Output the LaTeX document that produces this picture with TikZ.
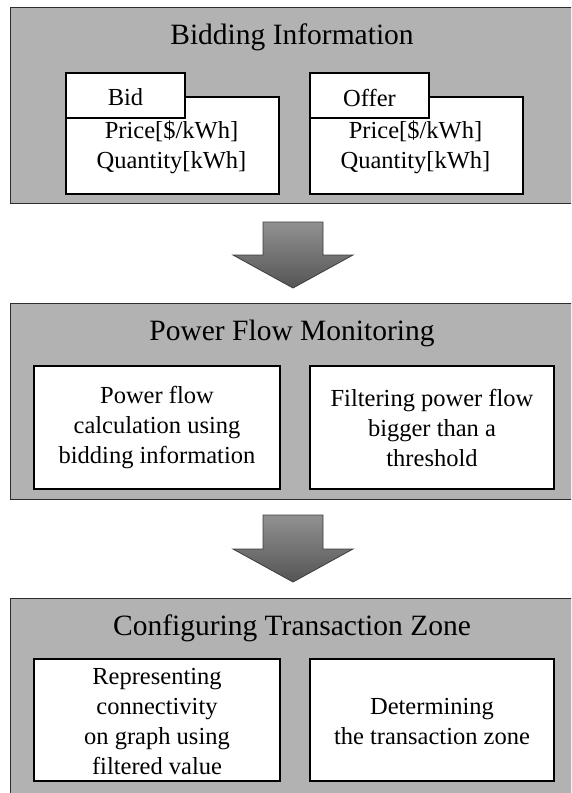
\documentclass[tikz,border=0pt]{standalone}
\usepackage{fontspec}
\setmainfont{Liberation Serif}
\usetikzlibrary{calc}
\definecolor{panelgray}{RGB}{178,178,178}
\definecolor{paneledge}{RGB}{45,45,45}
\definecolor{arrtop}{RGB}{145,145,145}
\definecolor{arrbot}{RGB}{85,85,85}
\definecolor{arredge}{RGB}{60,60,60}
\tikzset{
  panel/.style={draw=paneledge, fill=panelgray, line width=1pt, anchor=north west, inner sep=0pt},
  inbox/.style={draw=black, fill=white, line width=2pt, anchor=north west, inner sep=0pt},
  ptitle/.style={font=\fontsize{29.5}{34}\selectfont, inner sep=0pt},
  btext/.style={font=\fontsize{24.5}{30}\selectfont, align=center, inner sep=0pt},
  blockarrow/.style={draw=arredge, line width=0.8pt, top color=arrtop, bottom color=arrbot, line join=miter}
}
\begin{document}
\begin{tikzpicture}[x=1pt,y=-1pt]
\useasboundingbox (0,0) rectangle (571,793);
\clip (0,0) rectangle (571,793);
% ---------- Panel 1 ----------
\node[panel, minimum width=575pt, minimum height=196pt] (p1) at (10,7) {};
\node[ptitle] (t1) at (292,37) {Bidding Information};
\node[inbox, minimum width=213pt, minimum height=97pt] (bidbody) at (65,96) {};
\node[inbox, minimum width=119pt, minimum height=45pt] (bidtab) at (65,72) {};
\node[btext] (bidlbl) at ($(bidtab.center)+(0,2)$) {Bid};
\node[btext] (bidtxt) at (171.5,147) {Price[\$/kWh]\\Quantity[kWh]};
\node[inbox, minimum width=213pt, minimum height=97pt] (offbody) at (309,96) {};
\node[inbox, minimum width=119pt, minimum height=45pt] (offtab) at (309,72) {};
\node[btext] (offlbl) at ($(offtab.center)+(0,2)$) {Offer};
\node[btext] (offtxt) at (415.5,147) {Price[\$/kWh]\\Quantity[kWh]};
% ---------- Arrow 1 ----------
\coordinate (a1) at (293,222);
\path[blockarrow] ($(a1)+(-30,0)$) -- ($(a1)+(30,0)$) -- ($(a1)+(30,33)$) -- ($(a1)+(60,33)$)
  -- ($(a1)+(0,66)$) -- ($(a1)+(-60,33)$) -- ($(a1)+(-30,33)$) -- cycle;
% ---------- Panel 2 ----------
\node[panel, minimum width=575pt, minimum height=196pt] (p2) at (10,303) {};
\node[ptitle] (t2) at (292,333) {Power Flow Monitoring};
\node[inbox, minimum width=246pt, minimum height=123pt] (b21) at (33,365) {};
\node[btext] at (b21.center) {Power flow\\calculation using\\bidding information};
\node[inbox, minimum width=244pt, minimum height=123pt] (b22) at (309,365) {};
\node[btext] at (b22.center) {Filtering power flow\\bigger than a\\threshold};
% ---------- Arrow 2 ----------
\coordinate (a2) at (293,515);
\path[blockarrow] ($(a2)+(-30,0)$) -- ($(a2)+(30,0)$) -- ($(a2)+(30,34)$) -- ($(a2)+(60,34)$)
  -- ($(a2)+(0,67)$) -- ($(a2)+(-60,34)$) -- ($(a2)+(-30,34)$) -- cycle;
% ---------- Panel 3 ----------
\node[panel, minimum width=575pt, minimum height=215pt] (p3) at (10,598) {};
\node[ptitle] (t3) at (292,628) {Configuring Transaction Zone};
\node[inbox, minimum width=246pt, minimum height=122pt] (b31) at (33,658) {};
\node[btext] at ($(b31.center)+(0,1.5)$) {Representing\\connectivity\\on graph using\\filtered value};
\node[inbox, minimum width=244pt, minimum height=122pt] (b32) at (309,658) {};
\node[btext] at ($(b32.center)+(0,1)$) {Determining\\the transaction zone};
\end{tikzpicture}
\end{document}
